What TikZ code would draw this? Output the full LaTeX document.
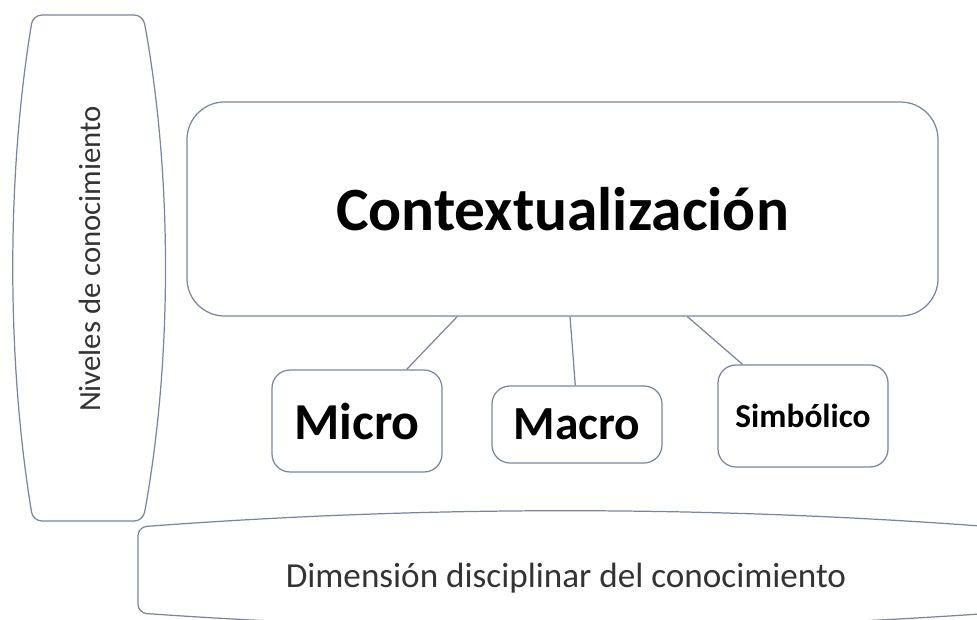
\documentclass[tikz,border=0pt]{standalone}
\usepackage{fontspec}
\setmainfont{Carlito}
\usepackage{xcolor}
\usepackage{tikz}
\usetikzlibrary{positioning, calc}
\definecolor{edgegray}{RGB}{122,132,156}
\tikzstyle{bigbox} = [rectangle, rounded corners=0.75cm, minimum width=15.02cm, minimum height=4.28cm, text centered, draw=edgegray, line width=0.7pt]
\tikzstyle{smallbox} = [rectangle, rounded corners=0.36cm, minimum width=3.4cm, text centered, draw=edgegray, line width=0.7pt]
\tikzstyle{barrel} = [draw=edgegray, line width=0.7pt, rounded corners=5pt]
\tikzstyle{link} = [draw=edgegray, line width=0.7pt]
\tikzstyle{every node}=[font=\normalsize]

\begin{document}
\begin{tikzpicture}[node distance=4.2cm]
			\useasboundingbox (0,0) rectangle (19.54,-12.38);
			\clip (0,0) rectangle (19.54,-12.38);
			%marcos de fondo
			\draw [barrel] (1.76,-0.30) -- (2.86,-0.30) .. controls (3.45,-3.5) and (3.45,-7.2) .. (2.86,-10.42) -- (0.66,-10.42) .. controls (0.13,-7.2) and (0.13,-3.5) .. (0.66,-0.30) -- cycle;
			\draw [barrel] (2.76,-11.4) -- (2.76,-10.54) .. controls (8.5,-10.11) and (14.1,-10.11) .. (19.88,-10.54) -- (19.88,-12.26) .. controls (14.1,-12.66) and (8.5,-12.66) .. (2.76,-12.26) -- cycle;
			\node (niveles) [rotate=90, text=black!80, font=\fontsize{17.5}{21}\selectfont] at (1.8,-5.18) {Niveles de conocimiento};
			\node (dim) [text=black!80, font=\fontsize{20}{24}\selectfont] at (11.32,-11.56) {Dimensión disciplinar del conocimiento};
			
			\node (ctx) [bigbox, font=\fontsize{35}{42}\selectfont\bfseries] at (11.25,-4.18) {Contextualización};
			\node (micro) [smallbox, minimum height=2.04cm, below of=ctx, xshift=-4.11cm, yshift=-0.04cm, font=\fontsize{29.5}{35}\selectfont\bfseries] {Micro};
			\node (macro) [smallbox, minimum height=1.54cm, below of=ctx, xshift=0.29cm, yshift=-0.11cm, font=\fontsize{27}{32}\selectfont\bfseries] {Macro};
			\node (simb) [smallbox, minimum height=2.04cm, below of=ctx, xshift=4.81cm, yshift=0.06cm, font=\fontsize{19}{23}\selectfont\bfseries] {Simbólico};
			
			%conectores
			\draw [link] ($(ctx.south west)!.36!(ctx.south east)$) -- ($(micro.north west)!.79!(micro.north east)$);
			\draw [link] ($(ctx.south west)!.51!(ctx.south east)$) -- ($(macro.north west)!.49!(macro.north east)$);
			\draw [link] ($(ctx.south west)!.666!(ctx.south east)$) -- ($(simb.north west)!.147!(simb.north east)$);
			
		\end{tikzpicture}
\end{document}
